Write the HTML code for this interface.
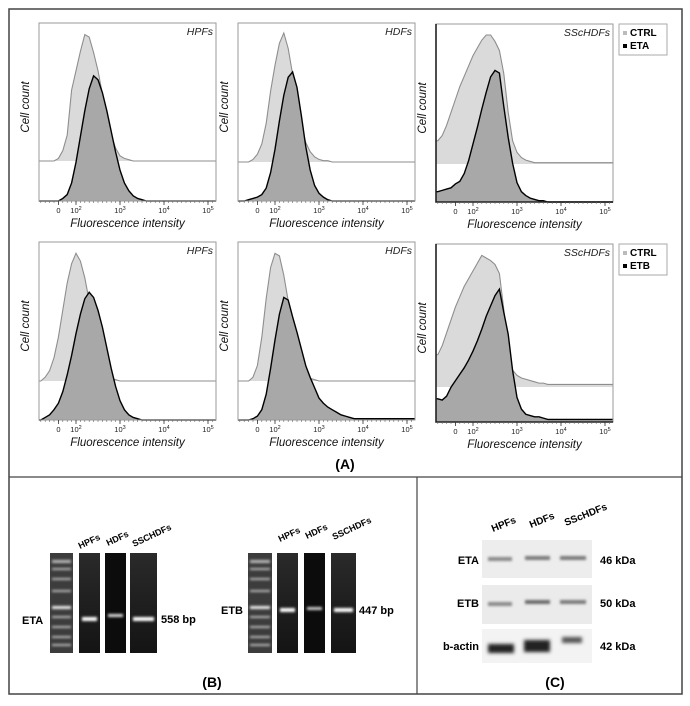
<!DOCTYPE html>
<html><head><meta charset="utf-8"><style>
html,body{margin:0;padding:0;background:#fff;}
svg{display:block;font-family:"Liberation Sans",Arial,sans-serif;}
</style></head><body>
<svg id="fig" width="690" height="706" viewBox="0 0 690 706" xmlns="http://www.w3.org/2000/svg">
<defs>
<filter id="blur1" x="-50%" y="-200%" width="200%" height="500%"><feGaussianBlur stdDeviation="1.2"/></filter>
<filter id="blur2" x="-50%" y="-200%" width="200%" height="500%"><feGaussianBlur stdDeviation="1.8"/></filter>
<linearGradient id="gelg" x1="0" y1="0" x2="0" y2="1"><stop offset="0" stop-color="#2a2a2a"/><stop offset="1" stop-color="#141414"/></linearGradient>
</defs>
<rect x="9" y="9" width="673" height="685" fill="none" stroke="#444" stroke-width="1.5"/>
<line x1="9" y1="477" x2="682" y2="477" stroke="#444" stroke-width="1.2"/>
<line x1="417" y1="477" x2="417" y2="694" stroke="#444" stroke-width="1.2"/>
<text x="345" y="469" text-anchor="middle" font-size="14" font-weight="bold">(A)</text>
<g id="hists"></g>

<g>
  <text x="212" y="687" text-anchor="middle" font-size="14" font-weight="bold">(B)</text>
  <g>
    <text x="22" y="624" font-size="11" font-weight="bold">ETA</text>
    <rect x="50" y="553" width="23" height="100" fill="#3c3c3c"/>
    <g fill="#bbb" filter="url(#blur1)">
      <rect x="52" y="560" width="19" height="3"/><rect x="52" y="568" width="19" height="2"/><rect x="52" y="578" width="19" height="2"/><rect x="52" y="590" width="19" height="2"/><rect x="52" y="606" width="19" height="3" fill="#eee"/><rect x="52" y="616" width="19" height="2"/><rect x="52" y="626" width="19" height="2"/><rect x="52" y="636" width="19" height="2"/><rect x="52" y="644" width="19" height="2"/>
    </g>
    <rect x="79" y="553" width="21" height="100" fill="url(#gelg)"/>
    <rect x="105" y="553" width="21" height="100" fill="#0c0c0c"/>
    <rect x="130" y="553" width="27" height="100" fill="url(#gelg)"/>
    <rect x="82" y="617" width="15" height="4" fill="#fff" filter="url(#blur1)"/>
    <rect x="108" y="614" width="15" height="3" fill="#ddd" filter="url(#blur1)"/>
    <rect x="133" y="617" width="21" height="4" fill="#fff" filter="url(#blur1)"/>
    <text x="161" y="623" font-size="11" font-weight="bold">558 bp</text>
    <text transform="translate(80,549) rotate(-25)" font-size="9" font-weight="bold">HPFs</text>
    <text transform="translate(108,546) rotate(-25)" font-size="9" font-weight="bold">HDFs</text>
    <text transform="translate(134,547) rotate(-25)" font-size="9" font-weight="bold">SSCHDFs</text>
  </g>
  <g>
    <text x="221" y="614" font-size="11" font-weight="bold">ETB</text>
    <rect x="248" y="553" width="24" height="100" fill="#3c3c3c"/>
    <g fill="#bbb" filter="url(#blur1)">
      <rect x="250" y="560" width="20" height="3"/><rect x="250" y="568" width="20" height="2"/><rect x="250" y="578" width="20" height="2"/><rect x="250" y="590" width="20" height="2"/><rect x="250" y="606" width="20" height="3" fill="#eee"/><rect x="250" y="616" width="20" height="2"/><rect x="250" y="626" width="20" height="2"/><rect x="250" y="636" width="20" height="2"/><rect x="250" y="644" width="20" height="2"/>
    </g>
    <rect x="277" y="553" width="21" height="100" fill="url(#gelg)"/>
    <rect x="304" y="553" width="21" height="100" fill="#0c0c0c"/>
    <rect x="331" y="553" width="25" height="100" fill="url(#gelg)"/>
    <rect x="280" y="608" width="15" height="4" fill="#fff" filter="url(#blur1)"/>
    <rect x="307" y="607" width="15" height="3" fill="#ccc" filter="url(#blur1)"/>
    <rect x="334" y="608" width="19" height="4" fill="#fff" filter="url(#blur1)"/>
    <text x="359" y="614" font-size="11" font-weight="bold">447 bp</text>
    <text transform="translate(280,542) rotate(-25)" font-size="9" font-weight="bold">HPFs</text>
    <text transform="translate(307,539) rotate(-25)" font-size="9" font-weight="bold">HDFs</text>
    <text transform="translate(334,540) rotate(-25)" font-size="9" font-weight="bold">SSCHDFs</text>
  </g>
</g>

<g>
  <text x="555" y="687" text-anchor="middle" font-size="14" font-weight="bold">(C)</text>
  <text transform="translate(493,532) rotate(-22)" font-size="10" font-weight="bold">HPFs</text>
  <text transform="translate(531,528) rotate(-22)" font-size="10" font-weight="bold">HDFs</text>
  <text transform="translate(566,526) rotate(-22)" font-size="10" font-weight="bold">SScHDFs</text>
  <rect x="482" y="540" width="110" height="38" fill="#ededed"/>
  <rect x="482" y="585" width="110" height="39" fill="#ebebeb"/>
  <rect x="482" y="629" width="110" height="34" fill="#f3f3f3"/>
  <g filter="url(#blur1)">
    <rect x="488" y="557" width="24" height="4" fill="#8a8a8a"/>
    <rect x="525" y="556" width="25" height="4" fill="#7a7a7a"/>
    <rect x="560" y="556" width="26" height="4" fill="#7a7a7a"/>
    <rect x="488" y="602" width="24" height="4" fill="#8a8a8a"/>
    <rect x="525" y="600" width="25" height="4" fill="#6a6a6a"/>
    <rect x="560" y="600" width="26" height="4" fill="#7a7a7a"/>
  </g>
  <g filter="url(#blur2)">
    <rect x="488" y="644" width="26" height="9" fill="#222"/>
    <rect x="524" y="640" width="26" height="12" fill="#222"/>
    <rect x="562" y="637" width="20" height="6" fill="#555"/>
  </g>
  <text x="479" y="564" text-anchor="end" font-size="11" font-weight="bold">ETA</text>
  <text x="479" y="607" text-anchor="end" font-size="11" font-weight="bold">ETB</text>
  <text x="479" y="650" text-anchor="end" font-size="11" font-weight="bold">b-actin</text>
  <text x="600" y="564" font-size="11" font-weight="bold">46 kDa</text>
  <text x="600" y="607" font-size="11" font-weight="bold">50 kDa</text>
  <text x="600" y="650" font-size="11" font-weight="bold">42 kDa</text>
</g>
</svg>
<script>
const bins = [1.2,1.3,1.4,1.5,1.6,1.7,1.8,1.9,2.0,2.1,2.2,2.3,2.4,2.5,2.6,2.7,2.8,2.9,3.0,3.1,3.2,3.3,3.4,3.5,3.6,3.7,3.8];
const tickDecades = [1.6,2,3,4,5];
const tickLabels = ["0","10","10","10","10"];
const tickExponents = ["","2","3","4","5"];
const hpfsEtaCtrl = [0,0,0,0,2,8,20,55,70,85,98,96,84,70,52,34,20,10,4,2,1,0,0,0,0,0,0];
const hpfsEta     = [0,0,0,0,0,2,5,14,30,50,70,87,97,94,84,70,54,38,24,14,8,4,2,1,0,0,0];
const hdfsEtaCtrl = [0,0,0,2,6,14,30,55,75,92,100,88,68,46,28,15,8,4,2,1,1,0,0,0,0,0,0];
const hdfsEta     = [0,0,1,2,3,5,10,22,40,62,82,96,100,88,66,42,24,12,6,3,1,0,0,0,0,0,0];
const sscEtaCtrl  = [18,22,30,40,50,60,68,76,84,90,96,100,100,95,88,70,40,18,9,5,3,2,1,1,1,1,1];
const sscEta      = [8,9,10,11,14,16,22,32,45,58,72,85,97,102,100,74,50,30,15,8,5,3,2,1,1,0,0];
const hpfsEtbCtrl = [0,3,8,18,34,55,76,91,99,93,80,62,42,24,12,5,2,1,0,0,0,0,0,0,0,0,0];
const hpfsEtb     = [0,2,4,8,13,22,35,50,67,82,94,99,95,85,72,56,40,26,15,8,4,2,1,0,0,0,0];
const hdfsEtbCtrl = [0,0,0,3,12,34,64,88,99,97,82,62,42,24,12,5,2,1,0,0,0,0,0,0,0,0,0];
const hdfsEtb     = [0,0,0,1,3,8,20,40,62,82,95,93,80,68,55,42,33,25,17,13,10,8,6,4,3,2,1];
const sscEtbCtrl  = [25,32,42,52,62,70,78,84,90,96,102,100,98,95,88,60,25,13,9,7,6,5,4,3,3,2,2];
const sscEtb      = [18,17,20,27,32,37,42,48,55,63,72,82,90,98,103,85,68,40,19,10,6,5,4,4,3,2,2];

const NS = "http://www.w3.org/2000/svg";
const root = document.getElementById('hists');
function mk(tag, attrs, parent){ const e=document.createElementNS(NS,tag); for(const k in attrs) e.setAttribute(k,attrs[k]); (parent||root).appendChild(e); return e; }

const panels = [
 {x:39,y:23,name:"HPFs",ctrl:hpfsEtaCtrl,tr:hpfsEta,off:40,leg:null,dark:false},
 {x:238,y:23,name:"HDFs",ctrl:hdfsEtaCtrl,tr:hdfsEta,off:39,leg:null,dark:false},
 {x:436,y:24,name:"SScHDFs",ctrl:sscEtaCtrl,tr:sscEta,off:38,leg:"ETA",dark:true},
 {x:39,y:242,name:"HPFs",ctrl:hpfsEtbCtrl,tr:hpfsEtb,off:39,leg:null,dark:false},
 {x:238,y:242,name:"HDFs",ctrl:hdfsEtbCtrl,tr:hdfsEtb,off:39,leg:null,dark:false},
 {x:436,y:244,name:"SScHDFs",ctrl:sscEtbCtrl,tr:sscEtb,off:35,leg:"ETB",dark:true}
];
const W=177, H=178, PXU=1.29;

panels.forEach(function(p, pi){
  const g = mk('g',{});
  
  
  const xS = d => p.x + 37 + (d-2)*44;
  const bottom = p.y + H;
  const ctrlBase = bottom - p.off;
  function series(vals, base){
    let pts = [[p.x, base],[p.x, base - vals[0]*PXU]];
    bins.forEach((b,i)=>pts.push([xS(b), base - vals[i]*PXU]));
    pts.push([p.x+W, base - vals[vals.length-1]*PXU]);
    pts.push([p.x+W, base]);
    return pts;
  }
  const cp = series(p.ctrl, ctrlBase);
  const ctrlFill = mk('polygon',{points:cp.map(q=>q.join(',')).join(' '),fill:'#dadada',stroke:'none'},g);
  
  
  const ctrlLine = mk('polyline',{points:cp.slice(1,-1).map(q=>q.join(',')).join(' '),fill:'none',stroke:'#8e8e8e','stroke-width':1.1},g);
  
  
  const tp = series(p.tr, bottom);
  const trFill = mk('polygon',{points:tp.map(q=>q.join(',')).join(' '),fill:'#a8a8a8',stroke:'none'},g);
  
  
  const trLine = mk('polyline',{points:tp.slice(1,-1).map(q=>q.join(',')).join(' '),fill:'none',stroke:'#000','stroke-width':1.4},g);
  
  
  const frame = mk('rect',{x:p.x,y:p.y,width:W,height:H,fill:'none',stroke:'#9a9a9a','stroke-width':1},g);
  
  
  if(p.dark){
    mk('path',{d:`M${p.x},${p.y} V${bottom} H${p.x+W}`,fill:'none',stroke:'#222','stroke-width':1.6},g);
  }
  for(let d=1.2; d<=5.15; d+=0.1){
    mk('line',{x1:xS(d),y1:bottom,x2:xS(d),y2:bottom+2,stroke:'#666','stroke-width':0.6},g);
  }
  tickDecades.forEach(function(d,i){
    mk('line',{x1:xS(d),y1:bottom,x2:xS(d),y2:bottom+4,stroke:'#333','stroke-width':0.8},g);
    const t = mk('text',{x:xS(d),y:bottom+12,'text-anchor':'middle','font-size':7.5,fill:'#222'},g);
    
    
    t.textContent = tickLabels[i];
    if(tickExponents[i]){ const s=mk('tspan',{dy:-3,'font-size':5.5},t); s.textContent=tickExponents[i]; }
  });
  const xt = mk('text',{x:p.x+W/2,y:bottom+26,'text-anchor':'middle','font-size':11.5,'font-style':'italic',fill:'#111'},g);
  
  
  xt.textContent = 'Fluorescence intensity';
  const yt = mk('text',{transform:`translate(${p.x-10},${p.y+H/2-5}) rotate(-90)`,'text-anchor':'middle','font-size':11.5,'font-style':'italic',fill:'#111'},g);
  
  
  yt.textContent = 'Cell count';
  const nm = mk('text',{x:p.x+W-3,y:p.y+12,'text-anchor':'end','font-size':10.5,'font-style':'italic',fill:'#222'},g);
  
  
  nm.textContent = p.name;
  if(p.leg){
    const lg = mk('g',{},g);
    
    
    mk('rect',{x:619,y:p.y,width:48,height:31,fill:'#fff',stroke:'#aaa','stroke-width':1},lg);
    mk('rect',{x:623,y:p.y+7,width:4,height:4,fill:'#bbb'},lg);
    const l1 = mk('text',{x:630,y:p.y+12,'font-size':10,'font-weight':'bold'},lg);
    
    
    l1.textContent='CTRL';
    mk('rect',{x:623,y:p.y+20,width:4,height:4,fill:'#000'},lg);
    const l2 = mk('text',{x:630,y:p.y+25,'font-size':10,'font-weight':'bold'},lg);
    
    
    l2.textContent=p.leg;
  }
});
</script>
</body></html>
